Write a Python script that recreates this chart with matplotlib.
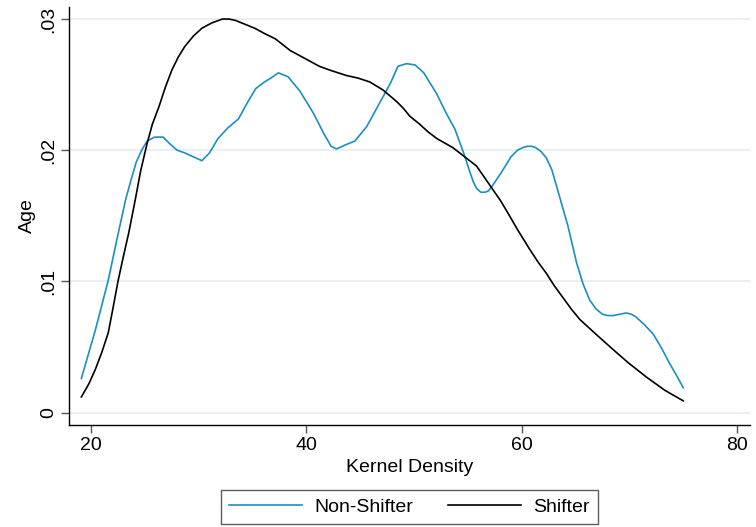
import matplotlib
matplotlib.use("Agg")
import matplotlib.pyplot as plt

plt.rcParams['font.family'] = ['Liberation Sans', 'DejaVu Sans']

# Non-Shifter (blue) density curve
ns_x = [19.1, 20.4, 21.6, 22.4, 23.2, 23.7, 24.2, 24.7, 25.2, 25.9, 26.7, 27.3,
        28.0, 28.7, 29.5, 30.3, 31.0, 31.8, 32.7, 33.7, 34.5, 35.3, 36.1, 36.7,
        37.4, 38.3, 39.4, 40.6, 41.6, 42.3, 42.8, 43.6, 44.5, 45.6, 46.8, 47.8,
        48.5, 49.3, 50.1, 50.9, 52.1, 53.0, 53.8, 54.6, 55.2, 55.5, 55.8, 56.2,
        56.6, 56.9, 57.2, 58.1, 59.0, 59.6, 60.1, 60.5, 60.9, 61.3, 61.8, 62.3,
        62.8, 63.5, 64.3, 64.7, 65.1, 65.7, 66.3, 66.9, 67.5, 68.0, 68.5, 69.1,
        69.7, 70.2, 70.6, 71.4, 72.2, 73.0, 73.7, 74.4, 75.0]
ns_y = [0.0026, 0.0063, 0.0101, 0.0132, 0.0162, 0.0177, 0.0191, 0.0200, 0.0207,
        0.0210, 0.0210, 0.0205, 0.0200, 0.0198, 0.0195, 0.0192, 0.0198, 0.0209,
        0.0217, 0.0224, 0.0236, 0.0247, 0.0252, 0.0255, 0.0259, 0.0256, 0.0245,
        0.0229, 0.0213, 0.0203, 0.0201, 0.0204, 0.0207, 0.0218, 0.0236, 0.0251,
        0.0264, 0.0266, 0.0265, 0.0259, 0.0243, 0.0228, 0.0216, 0.0198, 0.0183,
        0.0176, 0.0171, 0.0168, 0.0168, 0.0169, 0.0172, 0.0183, 0.0195, 0.0200,
        0.0202, 0.0203, 0.0203, 0.0202, 0.0199, 0.0194, 0.0185, 0.0165, 0.0142,
        0.0128, 0.0114, 0.0098, 0.0086, 0.0079, 0.0075, 0.0074, 0.0074, 0.0075,
        0.0076, 0.0075, 0.0073, 0.0067, 0.0060, 0.0049, 0.0038, 0.0028, 0.0019]

# Shifter (black) density curve
sh_x = [19.1, 19.8, 20.4, 21.0, 21.6, 22.0, 22.5, 23.0, 23.5, 24.1, 24.6, 25.2,
        25.7, 26.3, 26.9, 27.5, 28.1, 28.7, 29.5, 30.3, 31.2, 32.2, 32.8, 33.4,
        34.3, 35.2, 36.1, 37.1, 38.5, 39.4, 40.3, 41.2, 42.2, 43.7, 44.8, 45.9,
        46.5, 47.1, 48.4, 49.0, 49.6, 50.5, 51.3, 52.1, 53.6, 54.7, 55.8, 56.9,
        57.4, 58.0, 58.8, 59.5, 60.7, 61.5, 62.3, 63.0, 63.8, 64.6, 65.4, 66.2,
        67.0, 68.5, 69.9, 71.6, 73.3, 75.0]
sh_y = [0.0012, 0.0022, 0.0033, 0.0046, 0.0061, 0.0078, 0.0100, 0.0119, 0.0137,
        0.0162, 0.0184, 0.0205, 0.0220, 0.0233, 0.0248, 0.0261, 0.0271, 0.0279,
        0.0287, 0.0293, 0.0297, 0.0300, 0.0300, 0.0299, 0.0296, 0.0293, 0.0289,
        0.0285, 0.0276, 0.0272, 0.0268, 0.0264, 0.0261, 0.0257, 0.0255, 0.0252,
        0.0249, 0.0246, 0.0237, 0.0232, 0.0226, 0.0220, 0.0214, 0.0209, 0.0202,
        0.0195, 0.0188, 0.0175, 0.0169, 0.0162, 0.0151, 0.0141, 0.0125, 0.0115,
        0.0106, 0.0097, 0.0088, 0.0079, 0.0071, 0.0065, 0.0059, 0.0048, 0.0038,
        0.0027, 0.0017, 0.0009]

x_ticks = [20, 40, 60, 80]
x_tick_labels = ["20", "40", "60", "80"]
y_ticks = [0, 0.01, 0.02, 0.03]
y_tick_labels = ["0", ".01", ".02", ".03"]

labels = ["Non-Shifter", "Shifter"]
colors = ["#1a8fc0", "#000000"]

fig = plt.figure(figsize=(7.56, 5.27), dpi=100)
ax = fig.add_axes([69.3 / 756, 1 - 425 / 527, (750 - 69.3) / 756, (425 - 6.7) / 527])

ax.plot(ns_x, ns_y, color=colors[0], lw=1.2, label=labels[0], solid_joinstyle='round')
ax.plot(sh_x, sh_y, color=colors[1], lw=1.2, label=labels[1], solid_joinstyle='round')

ax.set_xlim(17.98, 81.2)
ax.set_ylim(-0.00094, 0.03094)
ax.set_xticks(x_ticks)
ax.set_xticklabels(x_tick_labels)
ax.set_yticks(y_ticks)
ax.set_yticklabels(y_tick_labels, rotation=90, va='center')

for sp in ['top', 'right']:
    ax.spines[sp].set_visible(False)
for sp in ['left', 'bottom']:
    ax.spines[sp].set_linewidth(1.0)
    ax.spines[sp].set_color('black')

ax.grid(axis='y', color='#e8f0f3', lw=1.4)
ax.set_axisbelow(True)
ax.tick_params(axis='both', labelsize=14, length=5.5, width=1.0, color='#555555', pad=3.5)

ax.set_xlabel("Kernel Density", fontsize=14, labelpad=3)
ax.set_ylabel("Age", fontsize=14, labelpad=3)

leg = ax.legend(loc='center', bbox_to_anchor=(0.4998, -0.197), ncol=2, fontsize=14,
                frameon=True, fancybox=False, handlelength=3.75, handletextpad=0.65,
                columnspacing=1.75, borderpad=0.42, borderaxespad=0)
leg.get_frame().set_edgecolor('#333333')
leg.get_frame().set_linewidth(1.0)

fig.savefig("out.png", dpi=100)
